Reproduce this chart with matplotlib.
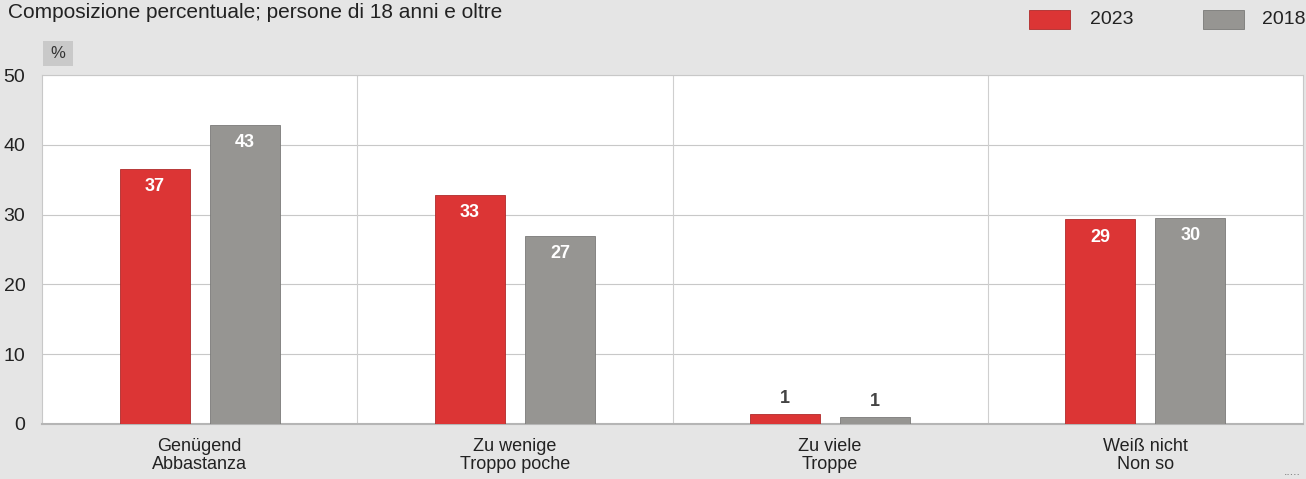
import numpy as np
import matplotlib.pyplot as plt
from matplotlib.patches import Rectangle

plt.rcParams["font.family"] = ["Liberation Sans", "DejaVu Sans"]

categories = ["Genügend\nAbbastanza", "Zu wenige\nTroppo poche", "Zu viele\nTroppe", "Weiß nicht\nNon so"]
values_2023 = [36.6, 32.8, 1.4, 29.3]
values_2018 = [42.8, 26.9, 1.0, 29.5]
labels_2023 = ["37", "33", "1", "29"]
labels_2018 = ["43", "27", "1", "30"]
yticks = [0, 10, 20, 30, 40, 50]

RED = "#dc3535"
GRAY = "#969592"
BG = "#e5e5e5"

fig = plt.figure(figsize=(13.06, 4.79), dpi=100)
fig.patch.set_facecolor(BG)
ax = fig.add_axes([42 / 1306, 1 - 424 / 479, (1303 - 42) / 1306, (424 - 75) / 479])
ax.set_facecolor("white")

x = np.arange(len(categories))
w = 0.222
off = 0.143
ax.bar(x - off, values_2023, w, color=RED, edgecolor="#b02a2a", linewidth=0.6, zorder=3)
ax.bar(x + off, values_2018, w, color=GRAY, edgecolor="#7a7a78", linewidth=0.6, zorder=3)

for xs, vals, labs in [(x - off, values_2023, labels_2023), (x + off, values_2018, labels_2018)]:
    for xi, v, lab in zip(xs, vals, labs):
        if v > 5:
            ax.text(xi, v - 1.3, lab, ha="center", va="top", color="white",
                    fontsize=13, fontweight="bold", zorder=4)
        else:
            ax.text(xi, v + 1.0, lab, ha="center", va="bottom", color="#444444",
                    fontsize=13, fontweight="bold", zorder=4)

ax.set_xlim(-0.5, 3.5)
ax.set_ylim(0, 50)
ax.set_yticks(yticks)
ax.set_yticklabels([str(t) for t in yticks], fontsize=14, color="#222222")
ax.set_xticks(x)
ax.set_xticklabels(categories, fontsize=13, color="#222222", linespacing=1.05)
ax.tick_params(axis="y", length=0, pad=12)
ax.tick_params(axis="x", length=0, pad=10)

for t in yticks[1:]:
    ax.axhline(t, color="#c8c8c8", linewidth=0.8, zorder=1)
for d in [0.5, 1.5, 2.5]:
    ax.axvline(d, color="#cfcfcf", linewidth=0.8, zorder=1)

for s in ["left", "right", "top"]:
    ax.spines[s].set_color("#c8c8c8")
    ax.spines[s].set_linewidth(0.8)
ax.spines["bottom"].set_color("#b5b5b5")
ax.spines["bottom"].set_linewidth(1.5)

# title
fig.text(8 / 1306, 1 - 12 / 479, "Composizione percentuale; persone di 18 anni e oltre",
         fontsize=15, color="#222222", ha="left", va="center")

# unit box
fig.patches.append(Rectangle((43 / 1306, 1 - 66 / 479), 30 / 1306, 25 / 479,
                             transform=fig.transFigure, facecolor="#c9c9c9",
                             edgecolor="none"))
fig.text(58 / 1306, 1 - 54 / 479, "%", fontsize=12, color="#333333", ha="center", va="center")

# legend
for x0, col, ec, lab, tx in [(1029, RED, "#b02a2a", "2023", 1090), (1203, GRAY, "#7a7a78", "2018", 1262)]:
    fig.patches.append(Rectangle((x0 / 1306, 1 - 29 / 479), 41 / 1306, 19 / 479,
                                 transform=fig.transFigure, facecolor=col,
                                 edgecolor=ec, linewidth=0.6))
    fig.text(tx / 1306, 1 - 20 / 479, lab, fontsize=14, color="#222222", ha="left", va="center")

fig.text(1292 / 1306, 1 - 472 / 479, ".....", fontsize=9, color="#777777", ha="center", va="center")

fig.savefig("out.png", dpi=100, facecolor=BG)
